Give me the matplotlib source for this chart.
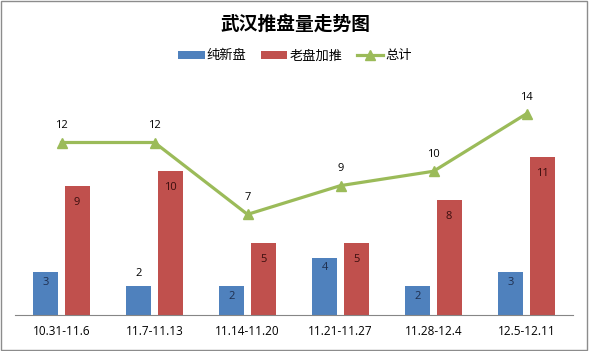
import matplotlib.pyplot as plt
import numpy as np
from matplotlib.patches import Rectangle

plt.rcParams['font.family'] = ['Noto Sans CJK SC', 'DejaVu Sans']

categories = ['10.31-11.6', '11.7-11.13', '11.14-11.20', '11.21-11.27', '11.28-12.4', '12.5-12.11']
new_supply = [3, 2, 2, 4, 2, 3]
old_supply = [9, 10, 5, 5, 8, 11]
total = [12, 12, 7, 9, 10, 14]
series_names = ['纯新盘', '老盘加推', '总计']

# Colors (Excel 2007 defaults)
BLUE = '#4F81BD'
RED = '#C0504D'
GREEN = '#9BBB59'
NUM_FONT = ['Open Sans', 'DejaVu Sans']

fig = plt.figure(figsize=(5.89, 3.51), dpi=100)
ax = fig.add_axes([15 / 589, 36 / 351, 558 / 589, 230 / 351])

x = np.arange(len(categories))
w = 0.27
gap = 0.065
bx = x - (w + gap) / 2
rx = x + (w + gap) / 2

b1 = ax.bar(bx, new_supply, width=w, color=BLUE, label=series_names[0])
b2 = ax.bar(rx, old_supply, width=w, color=RED, label=series_names[1])
ln, = ax.plot(x, total, color=GREEN, linewidth=2.3, marker='^', markersize=7,
              label=series_names[2])

# Data labels (the second blue label sits above its bar, like in the original)
for i, (xi, v) in enumerate(zip(bx, new_supply)):
    if i == 1:
        ax.annotate(str(v), (xi, v), xytext=(0, 9), textcoords='offset points',
                    ha='center', va='center', fontsize=8, color='black', family=NUM_FONT)
    else:
        ax.annotate(str(v), (xi, v), xytext=(0, -7.5), textcoords='offset points',
                    ha='center', va='center', fontsize=8, color='#1F2F4F', family=NUM_FONT)
for xi, v in zip(rx, old_supply):
    ax.annotate(str(v), (xi, v), xytext=(0, -12), textcoords='offset points',
                ha='center', va='center', fontsize=8, color='#3A0E0E', family=NUM_FONT)
for xi, v in zip(x, total):
    ax.annotate(str(v), (xi, v), xytext=(0, 12), textcoords='offset points',
                ha='center', va='center', fontsize=8, color='black', family=NUM_FONT)

ax.set_xlim(-0.5, len(categories) - 0.5)
ax.set_ylim(0, 16)
ax.set_yticks([])
ax.set_xticks(x)
ax.set_xticklabels(categories, fontsize=8.5, family=NUM_FONT)
ax.tick_params(axis='x', length=0, pad=7)
for s in ['top', 'right', 'left']:
    ax.spines[s].set_visible(False)
ax.spines['bottom'].set_color('#868686')
ax.spines['bottom'].set_linewidth(0.8)

fig.text(295 / 589, 1 - 24 / 351, '武汉推盘量走势图', ha='center', va='center',
         fontsize=13.5, fontweight='bold')
fig.legend(handles=[b1, b2, ln], loc='center', bbox_to_anchor=(295 / 589, 1 - 56 / 351),
           ncol=3, frameon=False, fontsize=9.5, handlelength=2.0, handleheight=0.55,
           handletextpad=0.15, columnspacing=1.1, borderpad=0)

fig.patches.append(Rectangle((0.002, 0.003), 0.995, 0.993, transform=fig.transFigure,
                             fill=False, edgecolor='#8C8C8C', linewidth=1))

fig.savefig('out.png', dpi=100)
